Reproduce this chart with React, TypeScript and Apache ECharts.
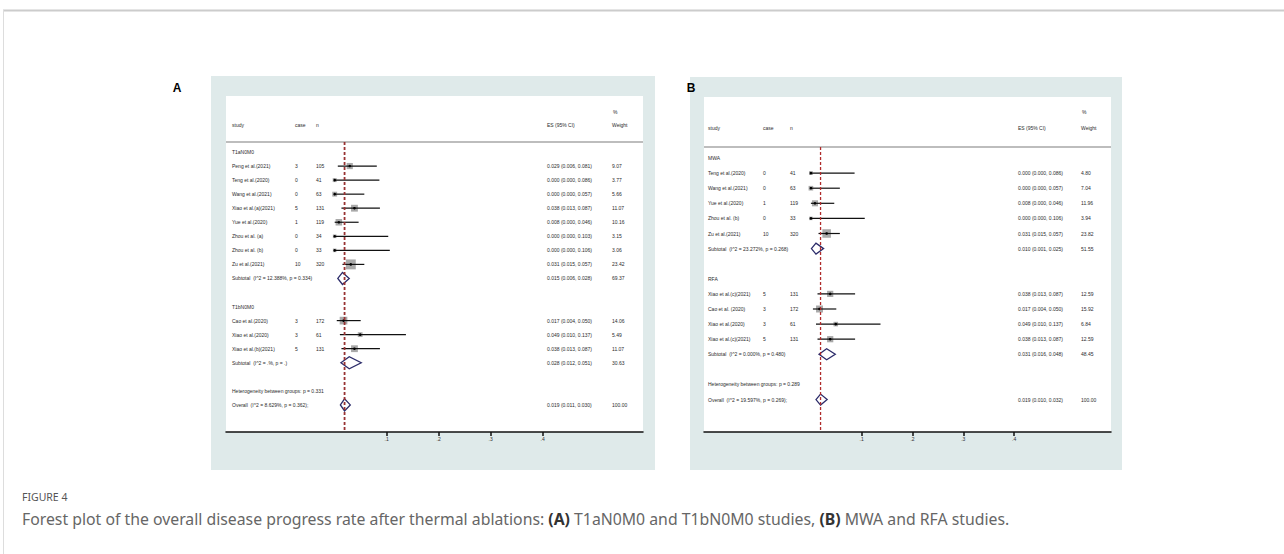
import React, { useEffect, useRef } from 'react';
import * as echarts from 'echarts';

// ---------- Panel A data (T1aN0M0 / T1bN0M0) ----------
const kindsA = ['group', 'study', 'study', 'study', 'study', 'study', 'study', 'study', 'study', 'subtotal', 'blank', 'group', 'study', 'study', 'study', 'subtotal', 'blank', 'text', 'overall'];
const labelsA = ['T1aN0M0', 'Peng et al.(2021)', 'Teng et al.(2020)', 'Wang et al.(2021)', 'Xiao et al.(a)(2021)', 'Yue et al.(2020)', 'Zhou et al. (a)', 'Zhou et al. (b)', 'Zu et al.(2021)', 'Subtotal  (I^2 = 12.388%, p = 0.334)', '', 'T1bN0M0', 'Cao et al.(2020)', 'Xiao et al.(2020)', 'Xiao et al.(b)(2021)', 'Subtotal  (I^2 = .%, p = .)', '', 'Heterogeneity between groups: p = 0.331', 'Overall  (I^2 = 8.629%, p = 0.362);'];
const casesA = ['', '3', '0', '0', '5', '1', '0', '0', '10', '', '', '', '3', '3', '5', '', '', '', ''];
const nsA = ['', '105', '41', '63', '131', '119', '34', '33', '320', '', '', '', '172', '61', '131', '', '', '', ''];
const esA = [null, 0.029, 0, 0, 0.038, 0.008, 0, 0, 0.031, 0.015, null, null, 0.017, 0.049, 0.038, 0.028, null, null, 0.019];
const loA = [null, 0.006, 0, 0, 0.013, 0, 0, 0, 0.015, 0.006, null, null, 0.004, 0.010, 0.013, 0.012, null, null, 0.011];
const hiA = [null, 0.081, 0.086, 0.057, 0.087, 0.046, 0.103, 0.106, 0.057, 0.028, null, null, 0.050, 0.137, 0.087, 0.051, null, null, 0.030];
const weightsA = ['', '9.07', '3.77', '5.66', '11.07', '10.16', '3.15', '3.06', '23.42', '69.37', '', '', '14.06', '5.49', '11.07', '30.63', '', '', '100.00'];

// ---------- Panel B data (MWA / RFA) ----------
const kindsB = ['group', 'study', 'study', 'study', 'study', 'study', 'subtotal', 'blank', 'group', 'study', 'study', 'study', 'study', 'subtotal', 'blank', 'text', 'overall'];
const labelsB = ['MWA', 'Teng et al.(2020)', 'Wang et al.(2021)', 'Yue et al.(2020)', 'Zhou et al. (b)', 'Zu et al.(2021)', 'Subtotal  (I^2 = 23.272%, p = 0.268)', '', 'RFA', 'Xiao et al.(c)(2021)', 'Cao et al. (2020)', 'Xiao et al.(2020)', 'Xiao et al.(c)(2021)', 'Subtotal  (I^2 = 0.000%, p = 0.480)', '', 'Heterogeneity between groups: p = 0.289', 'Overall  (I^2 = 19.597%, p = 0.269);'];
const casesB = ['', '0', '0', '1', '0', '10', '', '', '', '5', '3', '3', '5', '', '', '', ''];
const nsB = ['', '41', '63', '119', '33', '320', '', '', '', '131', '172', '61', '131', '', '', '', ''];
const esB = [null, 0, 0, 0.008, 0, 0.031, 0.010, null, null, 0.038, 0.017, 0.049, 0.038, 0.031, null, null, 0.019];
const loB = [null, 0, 0, 0, 0, 0.015, 0.001, null, null, 0.013, 0.004, 0.010, 0.013, 0.016, null, null, 0.010];
const hiB = [null, 0.086, 0.057, 0.046, 0.106, 0.057, 0.025, null, null, 0.087, 0.050, 0.137, 0.087, 0.048, null, null, 0.032];
const weightsB = ['', '4.80', '7.04', '11.96', '3.94', '23.82', '51.55', '', '', '12.59', '15.92', '6.84', '12.59', '48.45', '', '', '100.00'];

// ---------- Axis ticks ----------
const tickValues = [0.1, 0.2, 0.3, 0.4];
const tickLabels = ['.1', '.2', '.3', '.4'];

const FONT = '"Liberation Sans", Arial, sans-serif';

type Panel = {
  kinds: string[]; labels: string[]; cases: string[]; ns: string[];
  es: (number | null)[]; lo: (number | null)[]; hi: (number | null)[]; weights: string[];
  left: number; top: number; width: number; height: number;
  xMin: number; xMax: number; rowMin: number; rowMax: number;
  pctRow: number; hdrRow: number; sepRow: number;
  cols: { study: number; cs: number; n: number; es: number; w: number };
  k: number; dh: number; refWidth: number; refColor: string;
};

const panelA: Panel = {
  kinds: kindsA, labels: labelsA, cases: casesA, ns: nsA, es: esA, lo: loA, hi: hiA, weights: weightsA,
  left: 226, top: 96, width: 417, height: 336,
  xMin: -0.209, xMax: 0.5929, rowMin: -3.986, rowMax: 19.929,
  pctRow: -2.85, hdrRow: -1.9, sepRow: -0.712,
  cols: { study: 6, cs: 69, n: 90, es: 321, w: 386 },
  k: 2.05, dh: 6, refWidth: 1.8, refColor: '#983232',
};

const panelB: Panel = {
  kinds: kindsB, labels: labelsB, cases: casesB, ns: nsB, es: esB, lo: loB, hi: hiB, weights: weightsB,
  left: 704, top: 97, width: 407, height: 335,
  xMin: -0.2104, xMax: 0.5907, rowMin: -4.04, rowMax: 18.146,
  pctRow: -3.046, hdrRow: -1.987, sepRow: -0.728,
  cols: { study: 4, cs: 59, n: 86, es: 314, w: 377 },
  k: 1.75, dh: 5.5, refWidth: 1.3, refColor: '#b02a2a',
};

const fmtCI = (e: number, l: number, h: number) => `${e.toFixed(3)} (${l.toFixed(3)}, ${h.toFixed(3)})`;

function makeRender(P: Panel) {
  return (params: any, api: any) => {
    const i = params.dataIndex;
    const x0 = params.coordSys.x;
    const y = api.coord([0, i])[1];
    const children: any[] = [];
    const txt = (x: number, yy: number, s: string) => ({
      type: 'text',
      style: { x, y: yy, text: s, fill: '#2b2b2b', fontSize: 5, fontFamily: FONT, align: 'left', verticalAlign: 'middle' },
    });
    if (i === 0) {
      const yp = api.coord([0, P.pctRow])[1];
      const yh = api.coord([0, P.hdrRow])[1];
      const ys = api.coord([0, P.sepRow])[1];
      children.push(txt(x0 + P.cols.w + 1, yp, '%'));
      children.push(txt(x0 + P.cols.study, yh, 'study'));
      children.push(txt(x0 + P.cols.cs, yh, 'case'));
      children.push(txt(x0 + P.cols.n, yh, 'n'));
      children.push(txt(x0 + P.cols.es, yh, 'ES (95% CI)'));
      children.push(txt(x0 + P.cols.w, yh, 'Weight'));
      children.push({ type: 'line', shape: { x1: x0, y1: ys, x2: x0 + params.coordSys.width, y2: ys }, style: { stroke: '#bdbdbd', lineWidth: 2.2 } });
    }
    const kind = P.kinds[i];
    if (P.labels[i]) children.push(txt(x0 + P.cols.study, y, P.labels[i]));
    if (P.cases[i]) children.push(txt(x0 + P.cols.cs, y, P.cases[i]));
    if (P.ns[i]) children.push(txt(x0 + P.cols.n, y, P.ns[i]));
    const e = P.es[i], l = P.lo[i], h = P.hi[i];
    if (e !== null && l !== null && h !== null) {
      children.push(txt(x0 + P.cols.es, y, fmtCI(e, l, h)));
      children.push(txt(x0 + P.cols.w, y, P.weights[i]));
      const xe = api.coord([e, i])[0];
      const xl = api.coord([l, i])[0];
      const xh = api.coord([h, i])[0];
      if (kind === 'study') {
        const s = P.k * Math.sqrt(parseFloat(P.weights[i]));
        children.push({ type: 'rect', shape: { x: xe - s / 2, y: y - s / 2, width: s, height: s }, style: { fill: '#a9a9a9' } });
        children.push({ type: 'line', shape: { x1: xl, y1: y, x2: xh, y2: y }, style: { stroke: '#111', lineWidth: 1.2 } });
        children.push({ type: 'circle', shape: { cx: xe, cy: y, r: 1.3 }, style: { fill: '#000' } });
      } else {
        children.push({
          type: 'polygon',
          shape: { points: [[xl, y], [xe, y - P.dh], [xh, y], [xe, y + P.dh]] },
          style: { fill: '#fff', stroke: '#2c2c6a', lineWidth: 1.3 },
        });
      }
    }
    return { type: 'group', children };
  };
}

export default function App() {
  const ref = useRef<HTMLDivElement>(null);
  useEffect(() => {
    document.body.style.margin = '0';
    if (!ref.current) return;
    const chart = echarts.init(ref.current, undefined, { renderer: 'svg' });
    const panels = [panelA, panelB];
    const overallA = esA[esA.length - 1] as number;
    const overallB = esB[esB.length - 1] as number;
    const overalls = [overallA, overallB];

    const option: any = {
      animation: false,
      backgroundColor: '#fff',
      grid: panels.map((P) => ({ left: P.left, top: P.top, width: P.width, height: P.height, show: false, containLabel: false })),
      xAxis: panels.map((P, gi) => ({
        type: 'value', gridIndex: gi, min: P.xMin, max: P.xMax, position: 'bottom',
        axisLine: { show: true, onZero: false, lineStyle: { color: '#111', width: 1.5 } },
        axisTick: { show: true, customValues: tickValues, length: 4, lineStyle: { color: '#111', width: 1.5 } },
        axisLabel: {
          show: true, customValues: tickValues, margin: 4, fontSize: 5, color: '#333', fontFamily: FONT,
          formatter: (v: number) => tickLabels[tickValues.findIndex((t) => Math.abs(t - v) < 1e-6)] ?? '',
        },
        splitLine: { show: false },
      })),
      yAxis: panels.map((P, gi) => ({
        type: 'value', gridIndex: gi, min: P.rowMin, max: P.rowMax, inverse: true, show: false,
        axisLine: { onZero: false },
        splitLine: { show: false },
      })),
      series: [
        ...panels.map((P, gi) => ({
          type: 'custom', xAxisIndex: gi, yAxisIndex: gi, clip: false, z: 3,
          data: P.labels.map((_, i) => [0, i]),
          renderItem: makeRender(P),
          silent: true,
        })),
        ...panels.map((P, gi) => ({
          type: 'line', xAxisIndex: gi, yAxisIndex: gi, symbol: 'none', silent: true, z: 4,
          data: [[overalls[gi], P.sepRow], [overalls[gi], P.rowMax]],
          lineStyle: { color: P.refColor, width: P.refWidth, type: [3, 2] },
        })),
      ],
      graphic: {
        elements: [
          { type: 'rect', z: -10, shape: { x: 211, y: 76, width: 444, height: 394 }, style: { fill: '#dfeaea' } },
          { type: 'rect', z: -9, shape: { x: 226, y: 96, width: 417, height: 336 }, style: { fill: '#ffffff' } },
          { type: 'rect', z: -10, shape: { x: 690, y: 77, width: 432, height: 393 }, style: { fill: '#dfeaea' } },
          { type: 'rect', z: -9, shape: { x: 704, y: 97, width: 407, height: 335 }, style: { fill: '#ffffff' } },
          { type: 'line', z: -8, shape: { x1: 3, y1: 10.5, x2: 1284, y2: 10.5 }, style: { stroke: '#cccccc', lineWidth: 2 } },
          { type: 'line', z: -8, shape: { x1: 3.5, y1: 10, x2: 3.5, y2: 554 }, style: { stroke: '#dddddd', lineWidth: 1 } },
          { type: 'text', style: { x: 177, y: 88, text: 'A', fontSize: 12, fontWeight: 'bold', fill: '#000', fontFamily: FONT, align: 'center', verticalAlign: 'middle' } },
          { type: 'text', style: { x: 691, y: 88, text: 'B', fontSize: 12, fontWeight: 'bold', fill: '#000', fontFamily: FONT, align: 'center', verticalAlign: 'middle' } },
          { type: 'text', style: { x: 22, y: 497, text: 'FIGURE 4', fontSize: 10.5, fill: '#555', fontFamily: '"Noto Sans", sans-serif', verticalAlign: 'middle' } },
          {
            type: 'text',
            style: {
              x: 22, y: 519, verticalAlign: 'middle',
              text: '{n|Forest plot of the overall disease progress rate after thermal ablations: }{b|(A)}{n| T1aN0M0 and T1bN0M0 studies, }{b|(B)}{n| MWA and RFA studies.}',
              rich: {
                n: { fontSize: 15.8, fill: '#666', fontFamily: '"Noto Sans", sans-serif' },
                b: { fontSize: 15.8, fill: '#333', fontWeight: 'bold', fontFamily: '"Noto Sans", sans-serif' },
              },
            },
          },
        ],
      },
    };
    chart.setOption(option);
    return () => chart.dispose();
  }, []);
  return <div ref={ref} style={{ width: 1284, height: 554 }} />;
}
